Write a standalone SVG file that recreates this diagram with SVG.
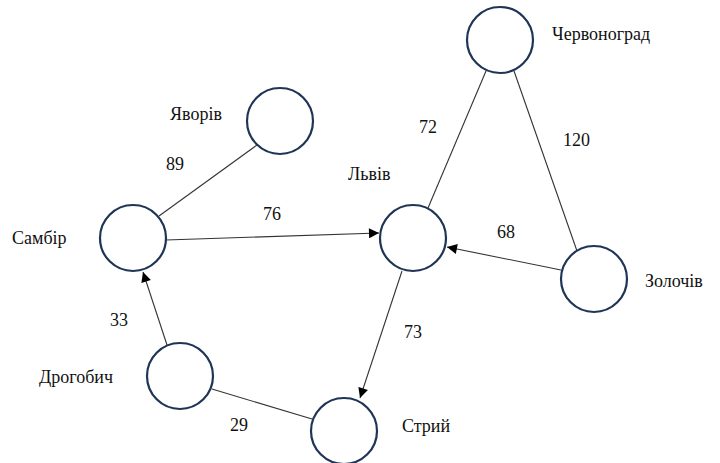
<svg xmlns="http://www.w3.org/2000/svg" width="720" height="463" viewBox="0 0 720 463">
<style>
.n{fill:#fff;stroke:#1f3556;stroke-width:2.2}
.e{stroke:#333;stroke-width:1.1;fill:none}
.t{font-family:"Times New Roman","Liberation Serif","DejaVu Serif",serif;font-size:18px;fill:#111}
</style>
<defs>
<marker id="a" viewBox="0 0 10 10" refX="10" refY="5" markerWidth="11" markerHeight="10" markerUnits="userSpaceOnUse" orient="auto">
<path d="M0,0 L10,5 L0,10 z" fill="#000"/>
</marker>
</defs>
<rect width="720" height="463" fill="#fff"/>
<g id="edges">
<line class="e" x1="257" y1="145" x2="159" y2="216"/>
<line class="e" x1="166" y1="240" x2="379" y2="233" marker-end="url(#a)"/>
<line class="e" x1="486" y1="71" x2="428" y2="208"/>
<line class="e" x1="514" y1="71" x2="577" y2="251"/>
<line class="e" x1="561" y1="270" x2="447" y2="247" marker-end="url(#a)"/>
<line class="e" x1="402" y1="271" x2="360" y2="398" marker-end="url(#a)"/>
<line class="e" x1="167" y1="345" x2="143" y2="272" marker-end="url(#a)"/>
<line class="e" x1="212" y1="389" x2="312" y2="419"/>
<g class="t">
<text x="166" y="170">89</text>
<text x="263" y="220">76</text>
<text x="419" y="133">72</text>
<text x="563" y="146">120</text>
<text x="497" y="238">68</text>
<text x="110" y="326">33</text>
<text x="404" y="338">73</text>
<text x="230" y="431">29</text>
</g>
</g>
<g id="chervonohrad"><circle class="n" cx="500" cy="40" r="33"/><text class="t" x="552" y="40">Червоноград</text></g>
<g id="yavoriv"><circle class="n" cx="280" cy="121" r="33"/><text class="t" x="170" y="120">Яворів</text></g>
<g id="lviv"><circle class="n" cx="413" cy="238" r="33"/><text class="t" x="348" y="180">Львів</text></g>
<g id="sambir"><circle class="n" cx="133" cy="238" r="33"/><text class="t" x="12" y="244">Самбір</text></g>
<g id="zolochiv"><circle class="n" cx="594" cy="279" r="33"/><text class="t" x="645" y="287">Золочів</text></g>
<g id="drohobych"><circle class="n" cx="180" cy="376" r="33"/><text class="t" x="39" y="383">Дрогобич</text></g>
<g id="stryi"><circle class="n" cx="344" cy="431" r="33"/><text class="t" x="402" y="432">Стрий</text></g>
</svg>
